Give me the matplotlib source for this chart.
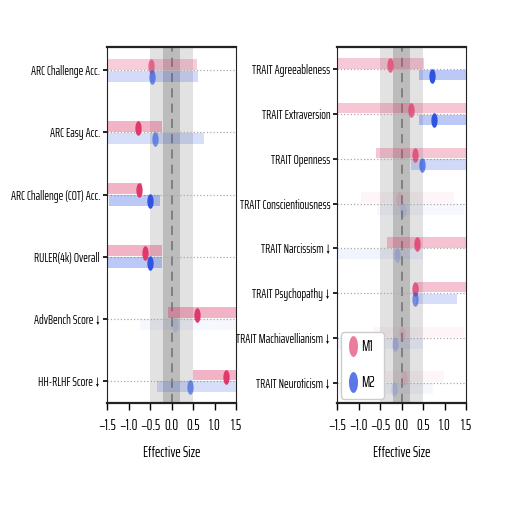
import matplotlib
matplotlib.use("Agg")
import matplotlib.pyplot as plt
import numpy as np
from matplotlib.path import Path
from matplotlib.lines import Line2D

FONT = ['Saira ExtraCondensed', 'DejaVu Sans']
plt.rcParams['font.family'] = FONT
plt.rcParams['axes.unicode_minus'] = True

# ---------------- data ----------------
left_labels = ["ARC Challenge Acc.", "ARC Easy Acc.", "ARC Challenge (COT) Acc.",
               "RULER(4k) Overall", "AdvBench Score \u2193", "HH-RLHF Score \u2193"]
left_m1 = [-0.48, -0.78, -0.75, -0.62, 0.60, 1.26]
left_m1_lo = [-1.9, -1.8, -1.8, -1.7, -0.08, 0.51]
left_m1_hi = [0.59, -0.22, -0.69, -0.23, 1.9, 2.0]
left_m1_alpha = [0.65, 1.0, 1.0, 1.0, 1.0, 1.0]
left_m2 = [-0.46, -0.39, -0.50, -0.50, 0.08, 0.42]
left_m2_lo = [-1.9, -1.8, -1.45, -1.7, -0.74, -0.34]
left_m2_hi = [0.61, 0.76, -0.26, -0.23, 1.9, 1.8]
left_m2_alpha = [0.65, 0.6, 1.0, 1.0, 0.12, 0.6]

right_labels = ["TRAIT Agreeableness", "TRAIT Extraversion", "TRAIT Openness",
                "TRAIT Conscientiousness", "TRAIT Narcissism \u2193", "TRAIT Psychopathy \u2193",
                "TRAIT Machiavellianism \u2193", "TRAIT Neuroticism \u2193"]
right_m1 = [-0.27, 0.22, 0.30, -0.06, 0.36, 0.31, 0.01, 0.06]
right_m1_lo = [-1.9, -1.6, -0.61, -0.95, -0.34, 0.35, -0.66, -0.61]
right_m1_hi = [0.52, 2.0, 1.8, 1.21, 1.9, 1.8, 1.44, 0.99]
right_m1_alpha = [0.7, 0.75, 0.75, 0.12, 0.8, 0.8, 0.12, 0.12]
right_m2 = [0.70, 0.74, 0.48, 0.02, -0.12, 0.30, -0.16, -0.19]
right_m2_lo = [0.40, 0.40, 0.22, -0.58, -1.6, 0.33, -1.6, -1.45]
right_m2_hi = [1.9, 1.9, 1.8, 1.44, 0.50, 1.28, 0.49, 0.72]
right_m2_alpha = [1.0, 1.0, 0.7, 0.12, 0.2, 0.6, 0.2, 0.15]

series_names = ["M1", "M2"]
xticks = [-1.5, -1.0, -0.5, 0.0, 0.5, 1.0, 1.5]
C1 = "#e0386a"
C2 = "#2f55e0"
FS = 8.9
FT = 10.5

# ellipse marker
t = np.linspace(0, 2 * np.pi, 60)
ell = Path(np.column_stack([0.43 * np.cos(t), np.sin(t)]), closed=True)

fig = plt.figure(figsize=(5.08, 5.08), dpi=100)
H = 355.4 / 508
B = (508 - 402.7) / 508
axL = fig.add_axes([107 / 508, B, 129 / 508, H])
axR = fig.add_axes([337.3 / 508, B, 129 / 508, H])


def panel(ax, labels, m1, m1lo, m1hi, a1, m2, m2lo, m2hi, a2, pad, off, h):
    n = len(labels)
    y = np.arange(n)
    ax.axvspan(-0.5, 0.5, color="#e2e2e2", zorder=0, lw=0)
    ax.axvspan(-0.2, 0.2, color="#bcbcbc", zorder=0.5, lw=0)
    ax.axvline(0, color="#707070", ls=(0, (6, 4)), lw=1.1, zorder=1)
    for yi in y:
        ax.axhline(yi, color="#aaaaaa", ls=":", lw=0.9, zorder=1)
    for i in range(n):
        ax.barh(y[i] - off, m1hi[i] - m1lo[i], left=m1lo[i], height=h,
                color=C1, alpha=0.38 * a1[i], lw=0, zorder=2)
        ax.barh(y[i] + off, m2hi[i] - m2lo[i], left=m2lo[i], height=h,
                color=C2, alpha=0.32 * a2[i], lw=0, zorder=2)
        ax.plot(m1[i], y[i] - off * 0.7, marker=ell, ms=10.5, color=C1,
                alpha=a1[i], ls="none", mew=0, zorder=3)
        ax.plot(m2[i], y[i] + off * 1.1, marker=ell, ms=10.5, color=C2,
                alpha=a2[i], ls="none", mew=0, zorder=3)
    ax.set_xlim(-1.5, 1.5)
    ax.set_ylim(n - 1 + pad[1], -pad[0])
    ax.set_yticks(y)
    ax.set_yticklabels(labels, fontsize=FS, family=FONT)
    ax.set_xticks(xticks)
    ax.set_xticklabels([f"{v:.1f}".replace("-", "\u2212") for v in xticks],
                       fontsize=FT, family=FONT)
    ax.set_xlabel("Effective Size", fontsize=FT, family=FONT, labelpad=9)
    ax.tick_params(axis="x", length=5, width=1, pad=7)
    ax.tick_params(axis="y", length=3, width=1.2, pad=2)
    for s in ax.spines.values():
        s.set_color("#222222")
    ax.spines["top"].set_linewidth(1.6)
    ax.spines["bottom"].set_linewidth(1.6)
    ax.spines["left"].set_linewidth(0.8)
    ax.spines["right"].set_linewidth(0.8)


panel(axL, left_labels, left_m1, left_m1_lo, left_m1_hi, left_m1_alpha,
      left_m2, left_m2_lo, left_m2_hi, left_m2_alpha, (0.37, 0.35), 0.095, 0.175)
panel(axR, right_labels, right_m1, right_m1_lo, right_m1_hi, right_m1_alpha,
      right_m2, right_m2_lo, right_m2_hi, right_m2_alpha, (0.49, 0.45), 0.13, 0.235)

handles = [Line2D([], [], marker=ell, ms=15, color=C1, alpha=0.65, ls="none", mew=0),
           Line2D([], [], marker=ell, ms=15, color=C2, alpha=0.8, ls="none", mew=0)]
axR.legend(handles, series_names, loc="lower left", prop={'family': FONT, 'size': FT},
           handlelength=0.5, handletextpad=0.3, labelspacing=1.5, borderpad=0.6,
           borderaxespad=0.25, frameon=True, framealpha=1.0, edgecolor="#cccccc")

fig.savefig("out.png", dpi=100)
